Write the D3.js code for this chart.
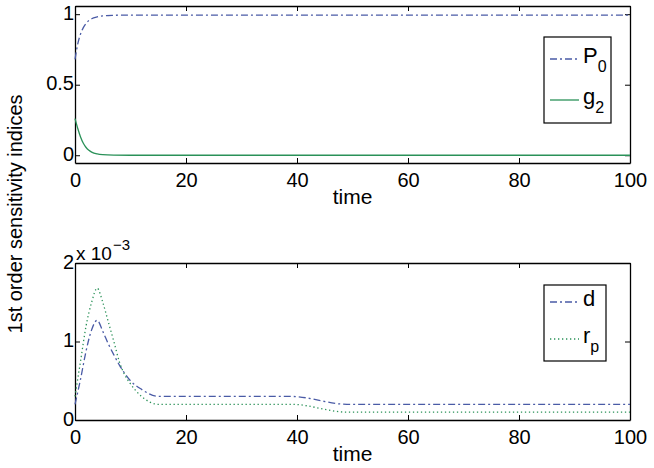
<!DOCTYPE html>
<html>
<head>
<meta charset="utf-8">
<script src="https://cdn.jsdelivr.net/npm/d3@7"></script>
<style>
  body { margin: 0; background: #fff; }
  text { font-family: "Liberation Sans", Arial, sans-serif; fill: #000; }
</style>
</head>
<body>
<div id="chart"></div>
<script>
// time points
var tTop = [0, 0.5, 1, 1.5, 2, 2.5, 3, 4, 5, 7, 10, 100];
var P0   = [0.68, 0.79, 0.86, 0.905, 0.935, 0.955, 0.968, 0.981, 0.988, 0.992, 0.994, 0.994];
var g2   = [0.26, 0.19, 0.13, 0.085, 0.055, 0.035, 0.022, 0.009, 0.004, 0.001, 0, 0];

var tBot = [0, 1, 2, 3, 4, 5, 6, 7, 8, 9, 10, 12, 15, 39, 49, 100];
var dVal = [0.2, 0.52, 0.88, 1.15, 1.27, 1.13, 0.97, 0.83, 0.7, 0.59, 0.5, 0.39, 0.3, 0.3, 0.2, 0.2];   // x 1e-3
var rpVal = [0.3, 0.75, 1.2, 1.5, 1.68, 1.5, 1.25, 1.0, 0.74, 0.57, 0.46, 0.3, 0.2, 0.2, 0.1, 0.1];    // x 1e-3

var xTicks = [0, 20, 40, 60, 80, 100];

var w = 654, h = 468;
var blue = "#4a5ba6", green = "#2a9158";

var svg = d3.select("#chart").append("svg")
  .attr("width", w).attr("height", h);

var x = d3.scaleLinear().domain([0, 100]).range([75, 630]);

function panel(top, bottom, yDomain, yTicks, yFmt) {
  var y = d3.scaleLinear().domain(yDomain).range([bottom, top]);
  var g = svg.append("g");

  g.append("g").attr("transform", "translate(0," + bottom + ")")
    .call(d3.axisBottom(x).tickValues(xTicks).tickSizeInner(-5).tickSizeOuter(0).tickPadding(10));
  g.append("g").attr("transform", "translate(0," + top + ")")
    .call(d3.axisTop(x).tickValues(xTicks).tickSizeInner(-5).tickSizeOuter(0).tickFormat(""));
  var ya = g.append("g").attr("transform", "translate(75,0)")
    .call(d3.axisLeft(y).tickValues(yTicks).tickSizeInner(-5).tickSizeOuter(0).tickPadding(1).tickFormat(yFmt));
  ya.selectAll(".tick text").attr("dy", "0.26em");
  g.append("g").attr("transform", "translate(630,0)")
    .call(d3.axisRight(y).tickValues(yTicks).tickSizeInner(-5).tickSizeOuter(0).tickFormat(""));

  g.selectAll(".domain").attr("stroke", "#000").attr("stroke-width", 1.3);
  g.selectAll(".tick line").attr("stroke", "#000").attr("stroke-width", 1);
  g.selectAll(".tick text").style("font-size", "20px").attr("fill", "#000");

  g.append("text").attr("x", x(50)).attr("y", bottom + 41)
    .attr("text-anchor", "middle").style("font-size", "21px").text("time");
  return y;
}

function drawLine(y, ts, vs, color, dash, scale) {
  var line = d3.line()
    .x(function(d, i) { return x(ts[i]); })
    .y(function(d) { return y(d * scale); })
    .curve(d3.curveMonotoneX);
  svg.append("path").datum(vs)
    .attr("d", line)
    .attr("fill", "none")
    .attr("stroke", color)
    .attr("stroke-width", 1.3)
    .attr("stroke-dasharray", dash);
}

function legend(x0, y0, bw, bh, items) {
  var g = svg.append("g").attr("transform", "translate(" + x0 + "," + y0 + ")");
  g.append("rect").attr("width", bw).attr("height", bh)
    .attr("fill", "#fff").attr("stroke", "#000").attr("stroke-width", 1.2);
  items.forEach(function(it) {
    var yy = it.y;
    g.append("line").attr("x1", 6).attr("x2", 35).attr("y1", yy).attr("y2", yy)
      .attr("stroke", it.color).attr("stroke-width", 1.3).attr("stroke-dasharray", it.dash);
    var t = g.append("text").attr("x", 39).attr("y", yy + 4).style("font-size", "22px");
    t.append("tspan").text(it.name);
    t.append("tspan").attr("dy", 9).style("font-size", "16px").text(it.sub);
  });
}

// top panel
var yTop = panel(6, 163, [-0.055, 1.058], [0, 0.5, 1], function(d) { return d; });
drawLine(yTop, tTop, P0, blue, "7,3,2,3", 1);
drawLine(yTop, tTop, g2, green, null, 1);
legend(544, 37, 67, 86, [
  {name: "P", sub: "0", color: blue, dash: "7,3,2,3", y: 22},
  {name: "g", sub: "2", color: green, dash: null, y: 63}
]);

// bottom panel
var yBot = panel(263, 420, [0, 0.002], [0, 0.001, 0.002], function(d) { return Math.round(d * 1000); });
drawLine(yBot, tBot, dVal, blue, "7,3,2,3", 1e-3);
drawLine(yBot, tBot, rpVal, green, "1.3,2.7", 1e-3);
legend(544, 285, 62, 76, [
  {name: "d", sub: "", color: blue, dash: "7,3,2,3", y: 17},
  {name: "r", sub: "p", color: green, dash: "1.3,2.7", y: 54}
]);

// exponent label
var ex = svg.append("text").attr("x", 76).attr("y", 260).style("font-size", "19px");
ex.append("tspan").text("x 10");
ex.append("tspan").attr("dx", 1).attr("dy", -10).style("font-size", "15px").text("\u22123");

// shared y label
svg.append("text")
  .attr("transform", "translate(22,214) rotate(-90)")
  .attr("text-anchor", "middle")
  .style("font-size", "20px")
  .text("1st order sensitivity indices");
</script>
</body>
</html>
